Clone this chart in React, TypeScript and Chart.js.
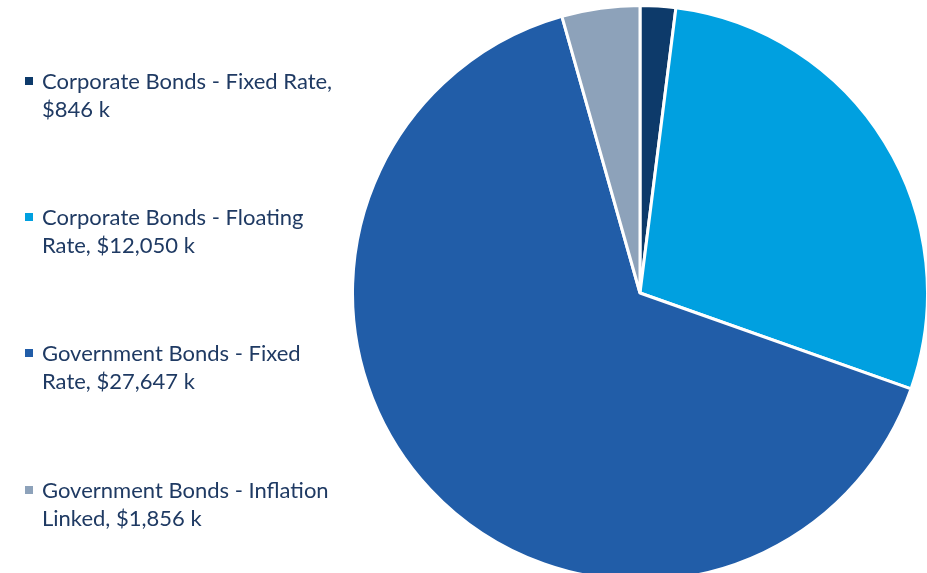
import React, { useEffect, useRef } from "react";
import { Chart, registerables } from "chart.js";

Chart.register(...registerables);

const categories = [
  "Corporate Bonds - Fixed Rate",
  "Corporate Bonds - Floating Rate",
  "Government Bonds - Fixed Rate",
  "Government Bonds - Inflation Linked",
];
const values = [846, 12050, 27647, 1856];
const colors = ["#0d3a6a", "#00a0e0", "#215da8", "#8da2ba"];
const legendTops = [67, 203, 339, 476];

const fmt = (v: number) => `$${v.toLocaleString("en-US")} k`;

export default function App() {
  const ref = useRef<HTMLCanvasElement | null>(null);
  useEffect(() => {
    if (!ref.current) return;
    const chart = new Chart(ref.current, {
      type: "pie",
      data: {
        labels: categories,
        datasets: [
          {
            data: values,
            backgroundColor: colors,
            borderColor: "#ffffff",
            borderWidth: 3,
          },
        ],
      },
      options: {
        responsive: false,
        animation: false,
        devicePixelRatio: 1,
        layout: { padding: 0 },
        plugins: { legend: { display: false }, tooltip: { enabled: false } },
      },
    });
    return () => chart.destroy();
  }, []);

  return (
    <div
      style={{
        position: "absolute",
        left: 0,
        top: 0,
        width: 927,
        height: 573,
        overflow: "hidden",
        background: "#fff",
      }}
    >
      <canvas
        ref={ref}
        width={578}
        height={578}
        style={{ position: "absolute", left: 351, top: 4, width: 578, height: 578 }}
      />
      {categories.map((c, i) => (
        <div
          key={c}
          style={{
            position: "absolute",
            left: 25,
            top: legendTops[i],
            width: 330,
            fontFamily: "Lato, sans-serif",
            fontSize: 22,
            lineHeight: "28px",
            color: "#1f3a63",
          }}
        >
          <span
            style={{
              position: "absolute",
              left: 0,
              top: 10,
              width: 8,
              height: 8,
              background: colors[i],
            }}
          />
          <div style={{ marginLeft: 17, width: 300 }}>{`${c}, ${fmt(values[i])}`}</div>
        </div>
      ))}
    </div>
  );
}
